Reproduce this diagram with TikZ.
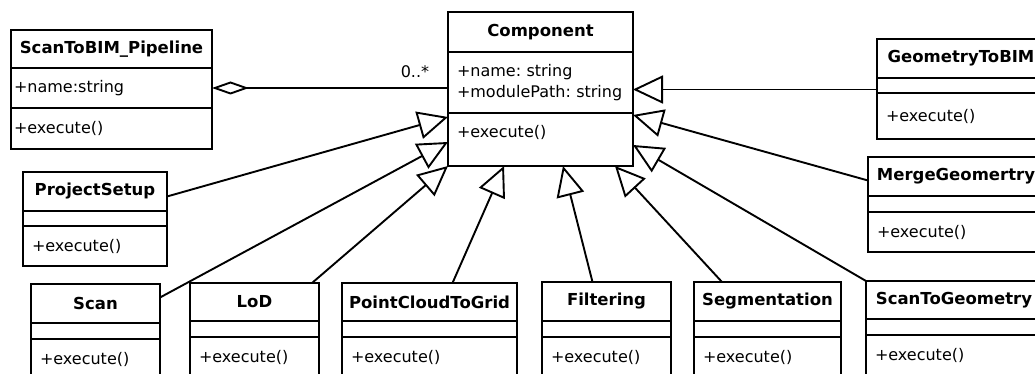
\documentclass[tikz,border=0pt]{standalone}
\usepackage{fontspec}
\setmainfont{DejaVu Sans}
\frenchspacing
\usetikzlibrary{arrows.meta}

\begin{document}
\begin{tikzpicture}[x=1pt, y=-1pt, line width=1.9pt,
		every node/.style={font=\fontsize{16}{21}\selectfont},
		ttl/.style={draw, anchor=north west, outer sep=0pt, inner sep=0pt, minimum width=#1, font=\fontsize{16.5}{19}\selectfont\bfseries},
		cpt/.style={draw, anchor=north west, outer sep=0pt, inner xsep=9pt, inner ysep=0pt, align=left, text width=#1},
		inh/.style={-{Triangle[open, length=30pt, width=28pt]}},
		agg/.style={{Diamond[open, length=37pt, width=13pt]}-}]
		\useasboundingbox (0,0) rectangle (1035,374);
		\clip (0,0) rectangle (1035,374);
		
		\node[ttl=201pt, minimum height=38pt] at (11,30) (pipe) {ScanToBIM\_Pipeline};
		\node[cpt=195pt, inner xsep=3pt, minimum height=40pt] at (pipe.south west) (pipe-a) {+name:string};
		\node[cpt=195pt, inner xsep=3pt, minimum height=41pt] at (pipe-a.south west) (pipe-m) {+execute()};
		
		\node[ttl=185pt, minimum height=40pt] at (448,12) (comp) {Component};
		\node[cpt=167pt, minimum height=61pt] at (comp.south west) (comp-a) {+name: string\\+modulePath: string};
		\node[cpt=167pt, minimum height=53pt, text depth=16pt] at (comp-a.south west) (comp-m) {+execute()};
		
		\node[ttl=144pt, minimum height=39pt] at (23,172) (proj) {ProjectSetup};
		\node[cpt=126pt, minimum height=15pt] at (proj.south west) (proj-a) {};
		\node[cpt=126pt, minimum height=40pt] at (proj-a.south west) (proj-m) {+execute()};
		
		\node[ttl=168pt, minimum height=39pt] at (877,39) (g2b) {GeometryToBIM};
		\node[cpt=150pt, minimum height=15pt] at (g2b.south west) (g2b-a) {};
		\node[cpt=150pt, minimum height=46pt] at (g2b-a.south west) (g2b-m) {+execute()};
		
		\node[ttl=176pt, minimum height=39pt] at (868,157) (merge) {MergeGeomertry};
		\node[cpt=158pt, minimum height=16pt] at (merge.south west) (merge-a) {};
		\node[cpt=158pt, minimum height=40pt] at (merge-a.south west) (merge-m) {+execute()};
		
		\node[ttl=129pt, minimum height=39pt] at (31,284) (scan) {Scan};
		\node[cpt=111pt, minimum height=16pt] at (scan.south west) (scan-a) {};
		\node[cpt=111pt, minimum height=40pt] at (scan-a.south west) (scan-m) {+execute()};
		
		\node[ttl=129pt, minimum height=38pt] at (190,283) (lod) {LoD};
		\node[cpt=111pt, minimum height=16pt] at (lod.south west) (lod-a) {};
		\node[cpt=111pt, minimum height=40pt] at (lod-a.south west) (lod-m) {+execute()};
		
		\node[ttl=175pt, minimum height=38pt] at (342,283) (pcg) {PointCloudToGrid};
		\node[cpt=157pt, minimum height=16pt] at (pcg.south west) (pcg-a) {};
		\node[cpt=157pt, minimum height=40pt] at (pcg-a.south west) (pcg-m) {+execute()};
		
		\node[ttl=129pt, minimum height=39pt] at (542,282) (filt) {Filtering};
		\node[cpt=111pt, minimum height=16pt] at (filt.south west) (filt-a) {};
		\node[cpt=111pt, minimum height=40pt] at (filt-a.south west) (filt-m) {+execute()};
		
		\node[ttl=147pt, minimum height=39pt] at (694,282) (seg) {Segmentation};
		\node[cpt=129pt, minimum height=16pt] at (seg.south west) (seg-a) {};
		\node[cpt=129pt, minimum height=40pt] at (seg-a.south west) (seg-m) {+execute()};
		
		\node[ttl=176pt, minimum height=38pt] at (866,281) (s2g) {ScanToGeometry};
		\node[cpt=158pt, minimum height=16pt] at (s2g.south west) (s2g-a) {};
		\node[cpt=158pt, minimum height=40pt] at (s2g-a.south west) (s2g-m) {+execute()};
		
		\draw[agg] (pipe-a.east) -- (pipe-a.east -| comp-a.west) node[pos=0.86, above, yshift=6pt] (mult) {0..*};
		
		\draw[inh] ([yshift=-5pt]proj.east) -- ([yshift=-4pt]comp-m.north west);
		\draw[inh] ([yshift=6pt]scan.east) -- ([yshift=-29pt]comp-m.north west);
		\draw[inh] ([xshift=-7pt]lod.north east) -- (comp-m.south west);
		\draw[inh] ([xshift=23pt]pcg.north) -- ([xshift=56pt]comp-m.south west);
		\draw[inh] ([xshift=-14pt]filt.north) -- ([xshift=115pt]comp-m.south west);
		\draw[inh] ([xshift=28pt]seg.north west) -- ([xshift=167pt]comp-m.south west);
		\draw[inh] (s2g.north west) -- ([yshift=-32pt]comp-m.north east);
		\draw[inh] ([yshift=-4pt]merge.west) -- ([yshift=-2pt]comp-m.north east);
		\coordinate (g2bin) at ([yshift=-4pt]g2b-a.west);
		\draw[inh] (g2bin) -- (g2bin -| comp-a.east);
\end{tikzpicture}
\end{document}
